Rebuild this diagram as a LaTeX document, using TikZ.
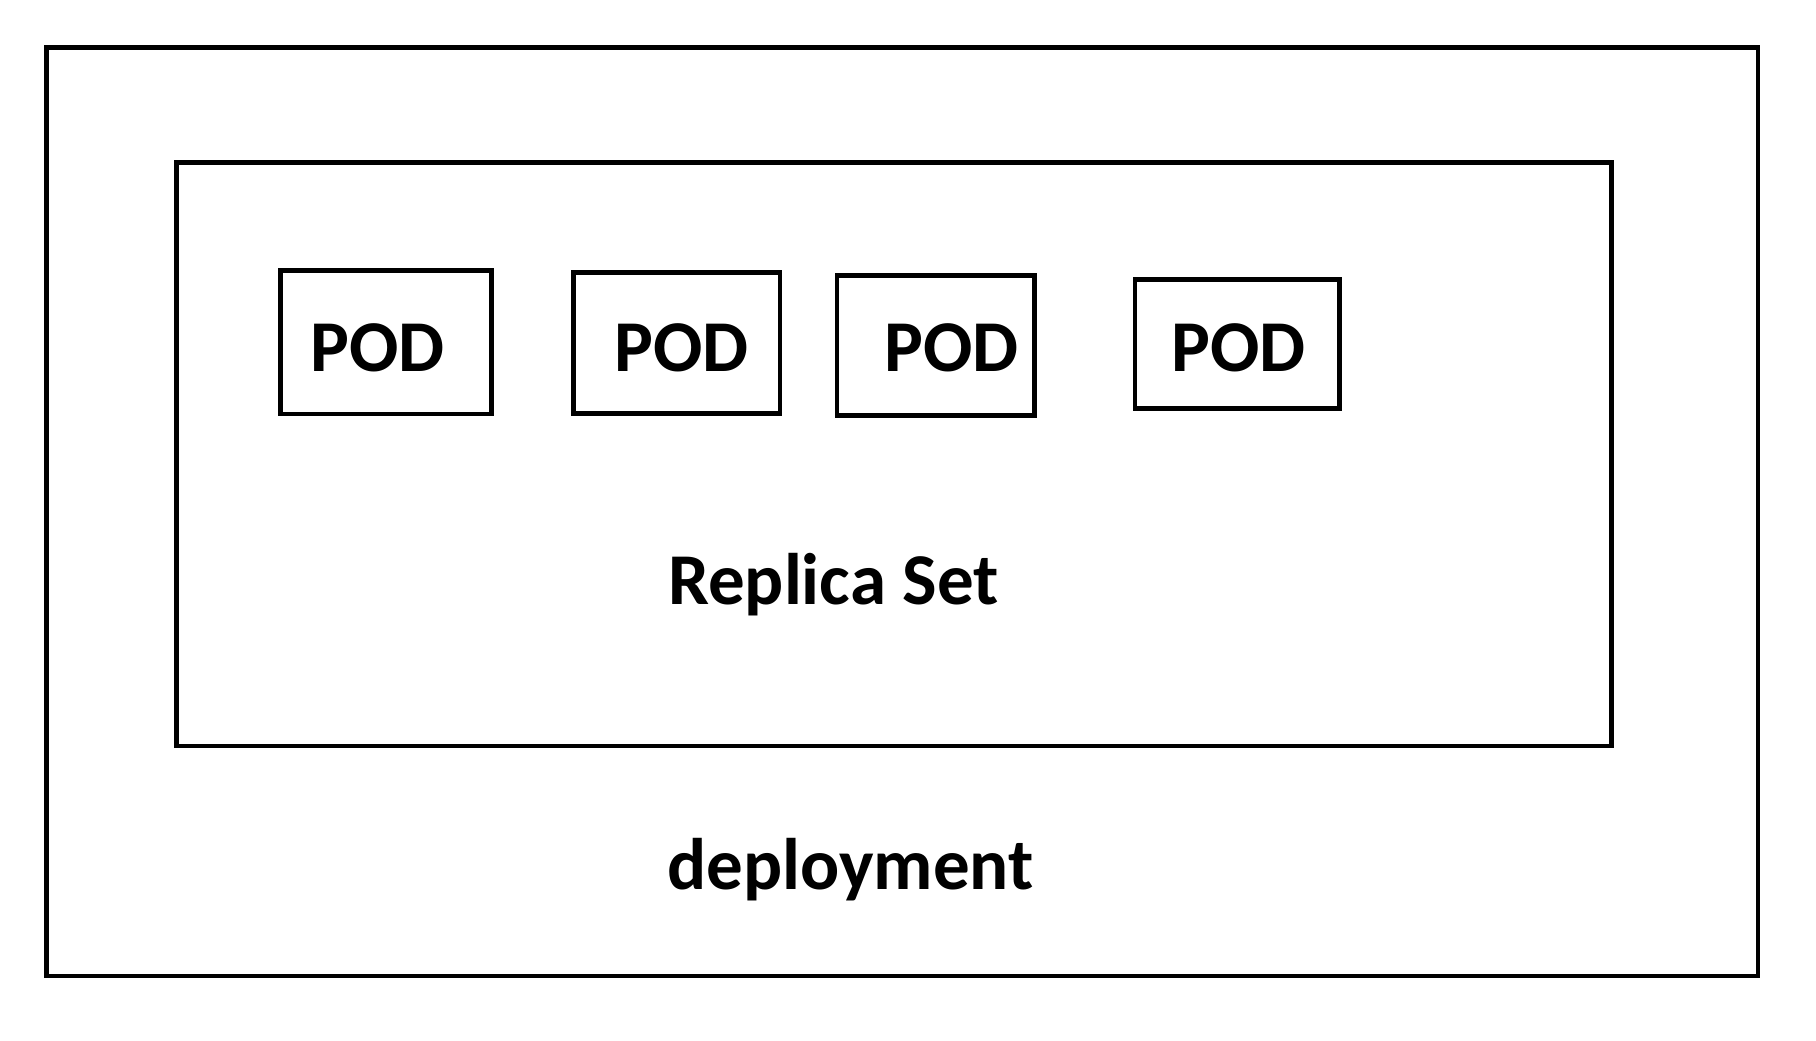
\documentclass[tikz,border=0pt]{standalone}
\usepackage{fontspec}
\setmainfont{Carlito}
\begin{document}
\begin{tikzpicture}[x=1pt,y=-1pt,
  frame/.style={draw=black, line width=4.8pt, inner sep=0pt, rectangle},
  lbl/.style={font=\fontsize{73}{80}\selectfont\bfseries, inner sep=0pt, anchor=base}]
\useasboundingbox (0,0) rectangle (1816,1041);
% outer deployment frame
\node[frame, minimum width=1711.5pt, minimum height=928.5pt] (deploy) at (902.2,511.7) {};
% replica set frame
\node[frame, minimum width=1435pt, minimum height=583.7pt] (rs) at (893.9,454.2) {};
% pods
\node[frame, minimum width=210.9pt, minimum height=143.7pt] (pod1) at (386,342.2) {};
\node[frame, minimum width=206.2pt, minimum height=141pt] (pod2) at (676.9,342.8) {};
\node[frame, minimum width=197.5pt, minimum height=140pt] (pod3) at (935.8,345.3) {};
\node[frame, minimum width=204.6pt, minimum height=129pt] (pod4) at (1237.3,343.8) {};
% labels
\node[lbl] (t1) at (377.8,371.7) {POD};
\node[lbl] (t2) at (681.7,371.7) {POD};
\node[lbl] (t3) at (951.8,371.7) {POD};
\node[lbl] (t4) at (1238.4,371.7) {POD};
\node[lbl] (trs) at (833.3,604) {Replica Set};
\node[lbl] (tdep) at (850.5,889.3) {deployment};
\end{tikzpicture}
\end{document}
